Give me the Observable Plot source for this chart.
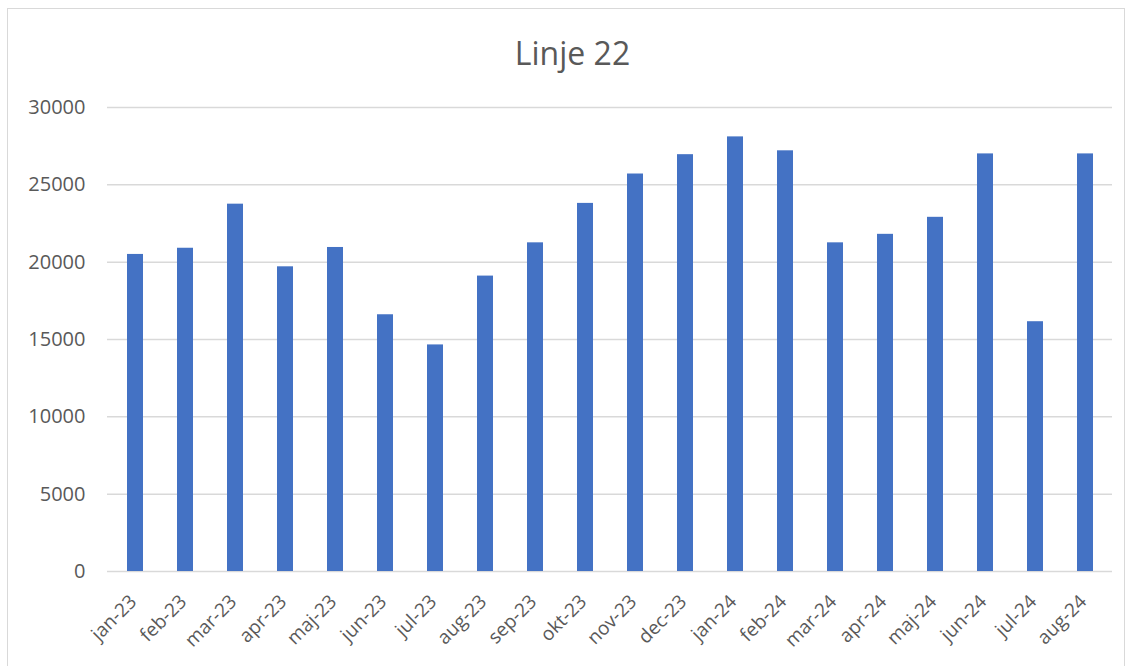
<!DOCTYPE html>
<html>
<head>
<meta charset="utf-8">
<script src="https://cdn.jsdelivr.net/npm/d3@7"></script>
<script src="https://cdn.jsdelivr.net/npm/@observablehq/plot@0.6"></script>
<style>
  html, body { margin: 0; padding: 0; background: #fff; }
  #frame { position: absolute; left: 7px; top: 8px; width: 1118px; height: 670px; border: 1px solid #d9d9d9; box-sizing: border-box; }
  #wrap { position: absolute; left: 0; top: 0; width: 1133px; }
  #title { height: 90px; line-height: 90px; text-align: center; font-family: "Open Sans", sans-serif; font-size: 32px; color: #595959; padding-top: 8px; padding-left: 12px; box-sizing: border-box; }
</style>
</head>
<body>
<div id="frame"></div>
<div id="wrap">
  <div id="title">Linje 22</div>
  <div id="chart"></div>
</div>
<script>
const months = ["jan-23","feb-23","mar-23","apr-23","maj-23","jun-23","jul-23","aug-23","sep-23","okt-23","nov-23","dec-23","jan-24","feb-24","mar-24","apr-24","maj-24","jun-24","jul-24","aug-24"];
const values = [20500,20900,23750,19700,20950,16600,14650,19100,21250,23800,25700,26950,28100,27200,21250,21800,22900,27000,16150,27000];
const yTicks = [0,5000,10000,15000,20000,25000,30000];

const data = months.map((m, i) => ({month: m, value: values[i]}));

const chart = Plot.plot({
  width: 1133,
  height: 576,
  marginLeft: 107,
  marginRight: 21,
  marginTop: 17,
  marginBottom: 95,
  style: {fontFamily: "Open Sans, sans-serif", background: "transparent"},
  x: {domain: months, paddingInner: 0.68, paddingOuter: 0.34, label: null},
  y: {domain: [0, 30000], label: null},
  marks: [
    Plot.gridY(yTicks, {stroke: "#d9d9d9", strokeOpacity: 1, strokeWidth: 1.5}),
    Plot.barY(data, {x: "month", y: "value", fill: "#4472C4"}),
    Plot.axisY(yTicks, {tickSize: 0, tickPadding: 22, fontSize: 20, fill: "#595959", tickFormat: d => String(d)}),
    Plot.axisX({tickSize: 0, tickRotate: -45, tickPadding: 27, fontSize: 19, fill: "#595959", dx: -2})
  ]
});
document.getElementById("chart").appendChild(chart);
</script>
</body>
</html>
